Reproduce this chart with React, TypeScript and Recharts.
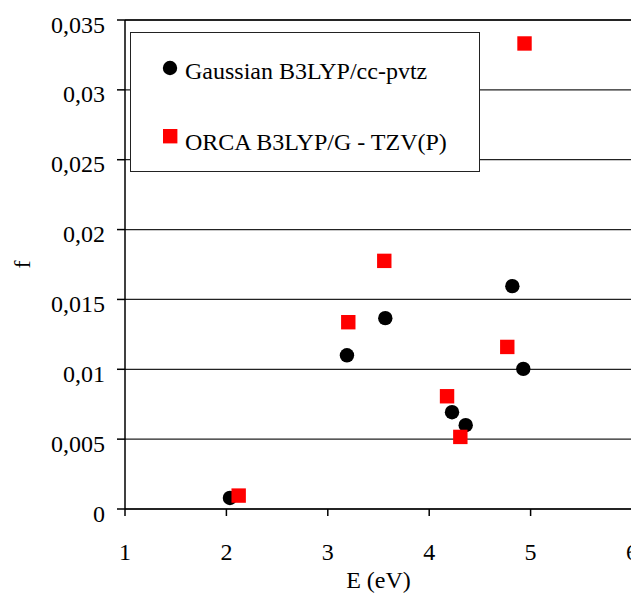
import {
  ScatterChart,
  Scatter,
  XAxis,
  YAxis,
  CartesianGrid,
  Legend,
  ReferenceLine,
} from 'recharts';

// excitation energies (eV) and oscillator strengths
const gaussianE = [2.035, 3.189, 3.567, 4.225, 4.36, 4.82, 4.928];
const gaussianF = [0.00079, 0.011, 0.01366, 0.00693, 0.006, 0.01595, 0.01003];
const orcaE = [2.121, 3.202, 3.557, 4.176, 4.307, 4.77, 4.94];
const orcaF = [0.00096, 0.01337, 0.01776, 0.00807, 0.00516, 0.0116, 0.03332];

const seriesNames = ['Gaussian B3LYP/cc-pvtz', 'ORCA B3LYP/G - TZV(P)'];
const xTicks = [1, 2, 3, 4, 5, 6];
const yTicks = [0, 0.005, 0.01, 0.015, 0.02, 0.025, 0.03, 0.035];

const FONT = '"Liberation Serif", "Times New Roman", serif';

const toPoints = (xs: number[], ys: number[]) => xs.map((x, i) => ({ x, y: ys[i] }));

const CircleDot = (props: any) => {
  const { cx, cy } = props;
  return <circle cx={cx} cy={cy} r={7.2} fill="#000" />;
};

const SquareDot = (props: any) => {
  const { cx, cy } = props;
  return <rect x={cx - 7.2} y={cy - 7.2} width={14.4} height={14.4} fill="#ff0000" />;
};

const XTick = (props: any) => {
  const { x, y, payload } = props;
  return (
    <text x={x} y={y} dy="0.71em" textAnchor="middle" fontFamily={FONT} fontSize={24} fill="#000">
      {payload.value}
    </text>
  );
};

const YTick = (props: any) => {
  const { x, y, payload } = props;
  return (
    <text x={x} y={y} dy={12.5} textAnchor="end" fontFamily={FONT} fontSize={24} fill="#000">
      {String(payload.value).replace('.', ',')}
    </text>
  );
};

const LegendBox = () => (
  <svg width={350} height={140} style={{ display: 'block' }}>
    <rect x={0.5} y={0.5} width={349} height={139} fill="#fff" stroke="#222" strokeWidth={1} />
    <circle cx={40} cy={36} r={7.2} fill="#000" />
    <text x={55} y={46.5} fontFamily={FONT} fontSize={24} fill="#000">
      {seriesNames[0]}
    </text>
    <rect x={33} y={97} width={14.4} height={14.4} fill="#ff0000" />
    <text x={55} y={117.5} fontFamily={FONT} fontSize={24} fill="#000">
      {seriesNames[1]}
    </text>
  </svg>
);

const YLabel = (props: any) => {
  const { viewBox } = props;
  const cy = viewBox.y + viewBox.height / 2;
  return (
    <text
      x={14}
      y={cy}
      transform={`rotate(-90, 14, ${cy})`}
      textAnchor="middle"
      dominantBaseline="central"
      fontFamily={FONT}
      fontSize={24}
      fill="#000"
    >
      f
    </text>
  );
};

const XLabel = (props: any) => {
  const { viewBox } = props;
  const cx = viewBox.x + viewBox.width / 2;
  return (
    <text x={cx} y={580} textAnchor="middle" fontFamily={FONT} fontSize={24} fill="#000">
      E (eV)
    </text>
  );
};

export default function App() {
  const gaussian = toPoints(gaussianE, gaussianF);
  const orca = toPoints(orcaE, orcaF);

  return (
    <ScatterChart
      width={631}
      height={586}
      margin={{ top: 12, right: 7, left: 0, bottom: 0 }}
      style={{ fontFamily: FONT }}
    >
      <CartesianGrid vertical={false} stroke="#222" strokeWidth={1.2} />
      <XAxis
        type="number"
        dataKey="x"
        domain={[1, 6]}
        ticks={xTicks}
        height={85}
        tick={<XTick />}
        tickSize={7}
        tickMargin={27}
        stroke="#000"
        strokeWidth={1.5}
        label={<XLabel />}
      />
      <YAxis
        type="number"
        dataKey="y"
        domain={[0, 0.035]}
        ticks={yTicks}
        width={117}
        tick={<YTick />}
        tickSize={8}
        tickMargin={12}
        stroke="#000"
        strokeWidth={1.5}
        label={<YLabel />}
      />
      <ReferenceLine x={6} stroke="#000" strokeWidth={1.5} />
      <ReferenceLine y={0.035} stroke="#000" strokeWidth={1.5} />
      <Legend
        layout="vertical"
        align="center"
        verticalAlign="middle"
        wrapperStyle={{ left: 122, top: 24, width: 350, height: 140 }}
        content={() => <LegendBox />}
      />
      <Scatter name={seriesNames[0]} data={gaussian} fill="#000" shape={<CircleDot />} isAnimationActive={false} />
      <Scatter name={seriesNames[1]} data={orca} fill="#ff0000" shape={<SquareDot />} isAnimationActive={false} />
    </ScatterChart>
  );
}
